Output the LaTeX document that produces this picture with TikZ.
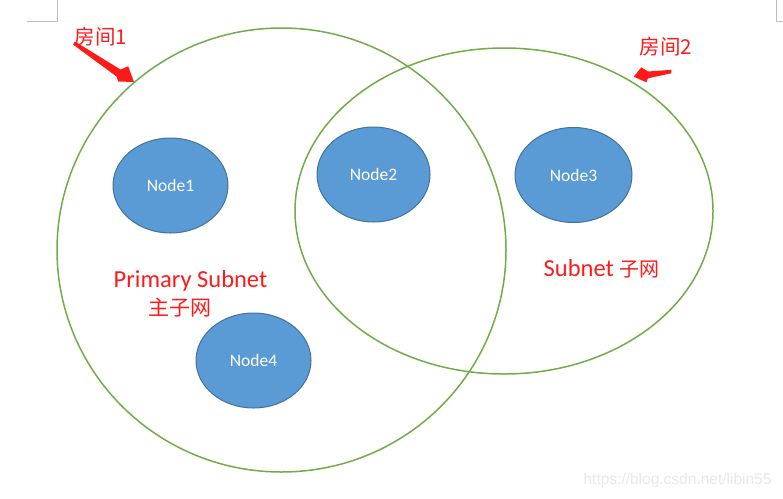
\documentclass[tikz,border=0pt]{standalone}
\usepackage{fontspec}
\setmainfont{Carlito}
\newfontfamily\cjk{Noto Sans CJK SC}
\newfontfamily\urlfont{Liberation Sans}
\usetikzlibrary{shapes.geometric}
\definecolor{hostblue}{HTML}{5B9BD5}
\definecolor{hostedge}{HTML}{41719C}
\definecolor{roomgreen}{HTML}{70AD47}
\definecolor{marktext}{HTML}{FF1A1A}
\begin{document}
\begin{tikzpicture}[
			x=1pt, y=-1pt,
			host/.style={ellipse, draw=hostedge, fill=hostblue, line width=1pt, minimum width=115pt, minimum height=95pt, inner sep=0, text=white, font=\fontsize{17.5}{20}\selectfont},
			room/.style={ellipse, draw=roomgreen, line width=1.5pt, inner sep=0},
			tag/.style={text=marktext, inner sep=0},
			corner/.style={draw=black!25, line width=1pt},
		]
		\useasboundingbox (0,0) rectangle (783,498);
		\node[room, minimum width=449pt, minimum height=444pt] (room1) at (281.5,250) {};
		\node[room, minimum width=418pt, minimum height=326pt] (room2) at (504,211) {};
		\node[host] (node1) at (170.5,185.5) {Node1};
		\node[host, minimum width=113pt] (node2) at (373.5,174.5) {Node2};
		\node[host, minimum width=117pt] (node3) at (573.5,175) {Node3};
		\node[host] (node4) at (253.5,360.5) {Node4};
		\node[tag, font=\cjk\fontsize{20.5}{24}\selectfont] (room1tag) at (101,37) {房间1};
		\node[tag, font=\cjk\fontsize{20.5}{24}\selectfont] (room2tag) at (666,47) {房间2};
		\node[tag, anchor=base, font=\fontsize{24.5}{28}\selectfont] (primary) at (190.5,287) {Primary Subnet};
		\node[tag, font=\cjk\fontsize{21}{24}\selectfont] (primarycn) at (180,308) {主子网};
		\node[tag, anchor=base, font=\fontsize{24.5}{28}\selectfont] (subnet) at (601.5,276) {Subnet {\cjk\fontsize{20}{24}\selectfont 子网}};
		\fill[marktext] (75,41.5) -- (120.5,69.5) -- (128.3,66.3) -- (134,82) -- (118.3,81.5) -- (116.5,76.5) -- (73,44.5) -- cycle;
		\fill[marktext] (671.5,69.8) -- (648,71.5) -- (641.3,67.3) -- (633.7,76.7) -- (646.3,82.3) -- (648,78.3) -- (671.3,73.3) -- cycle;
		\draw[corner] (57.3,0) -- (57.3,21) -- (27,21);
		\draw[corner] (776,0) -- (776,21) -- (783,21);
		\node[text=black!9, inner sep=0, font=\urlfont\fontsize{15.5}{18}\selectfont] (blog) at (677.5,480) {https://blog.csdn.net/libin55};
	\end{tikzpicture}
\end{document}
